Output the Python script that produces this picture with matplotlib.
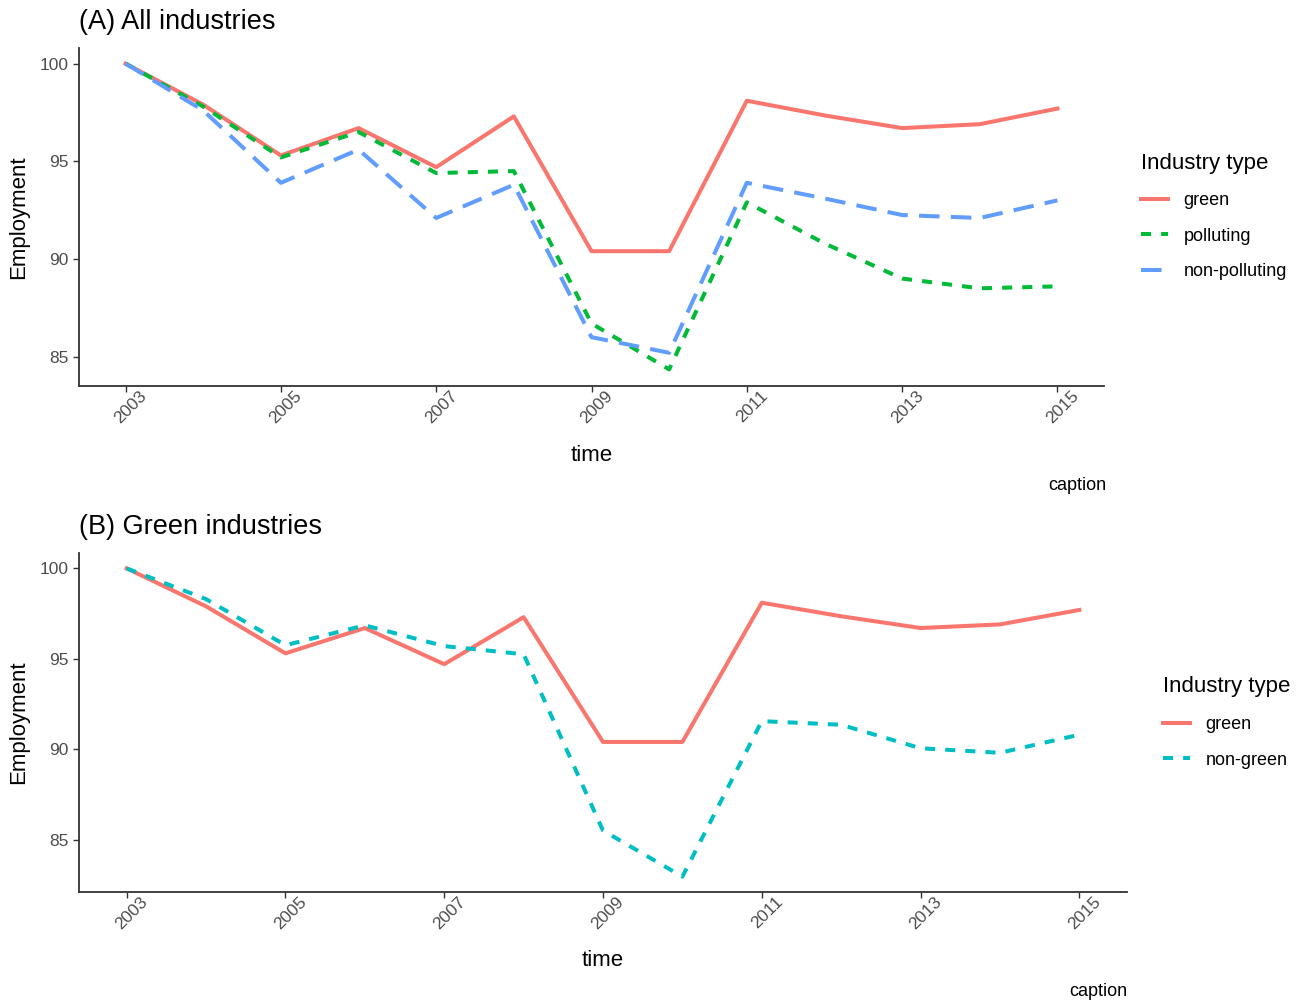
import matplotlib
matplotlib.use('Agg')
import matplotlib.pyplot as plt
import matplotlib.transforms as mtransforms

# ================
# Data
# ================
years = [2003, 2004, 2005, 2006, 2007, 2008, 2009, 2010, 2011, 2012, 2013, 2014, 2015]

green = [100.0, 97.9, 95.3, 96.7, 94.7, 97.3, 90.4, 90.4, 98.1, 97.35, 96.7, 96.9, 97.7]
polluting = [100.0, 97.8, 95.2, 96.5, 94.4, 94.5, 86.7, 84.35, 92.9, 90.8, 89.0, 88.5, 88.6]
non_polluting = [100.0, 97.6, 93.9, 95.6, 92.1, 93.8, 86.0, 85.2, 93.9, 93.1, 92.25, 92.1, 93.0]
non_green = [100.0, 98.3, 95.75, 96.85, 95.7, 95.25, 85.5, 82.95, 91.55, 91.35, 90.05, 89.8, 90.8]

x_ticks = [2003, 2005, 2007, 2009, 2011, 2013, 2015]
y_ticks = [85, 90, 95, 100]

# ================
# Style
# ================
plt.rcParams['font.family'] = ['Liberation Sans', 'DejaVu Sans']
RED = '#F8766D'
GRN = '#00BA38'
BLUE = '#619CFF'
TEAL = '#00BFC4'
LW = 2.9
W, H = 1299, 1002

fig = plt.figure(figsize=(W / 100, H / 100), dpi=100)

def px_axes(left, top, right, bottom):
    return fig.add_axes([left / W, 1 - bottom / H, (right - left) / W, (bottom - top) / H])

def style_axes(ax):
    for side in ['top', 'right']:
        ax.spines[side].set_visible(False)
    for side in ['left', 'bottom']:
        ax.spines[side].set_color('#333333')
        ax.spines[side].set_linewidth(1.3)
    ax.set_xticks(x_ticks)
    ax.set_yticks(y_ticks)
    ax.tick_params(length=4, width=1, color='#333333', labelsize=12.5, labelcolor='#4D4D4D')
    ax.tick_params(axis='x', pad=1)
    # nudge the rotated year labels right and up, like the reference
    shift = mtransforms.ScaledTranslation(5 / 100, 5 / 100, fig.dpi_scale_trans)
    for lab in ax.get_xticklabels():
        lab.set_rotation(45)
        lab.set_ha('center')
        lab.set_transform(lab.get_transform() + shift)
    ax.set_xlim(2002.4, 2015.6)

def add_legend(ax, x_px, yc_px):
    ax.legend(title='Industry type', loc='center left',
              bbox_to_anchor=(x_px / W, 1 - yc_px / H), bbox_transform=fig.transFigure,
              frameon=False, fontsize=13, title_fontsize=16, alignment='left',
              borderpad=0, handlelength=1.5, handletextpad=0.85, labelspacing=1.03)

# ================
# Panel A
# ================
axA = px_axes(79, 48, 1104, 386)
axA.plot(years, green, color=RED, lw=LW, label='green')
axA.plot(years, polluting, color=GRN, lw=LW, dashes=(2.5, 2.5), label='polluting')
axA.plot(years, non_polluting, color=BLUE, lw=LW, dashes=(5.1, 2.8), label='non-polluting')
style_axes(axA)
axA.set_ylim(83.5, 100.8)
axA.set_xlabel('time', fontsize=16)
axA.set_ylabel('Employment', fontsize=16)
axA.xaxis.set_label_coords(0.5, -0.175)
axA.yaxis.set_label_coords(-0.049, 0.5)
axA.text(0, 1.077, '(A) All industries', transform=axA.transAxes, fontsize=19.5,
         ha='left', va='center')
add_legend(axA, 1132, 216.5)
fig.text(1106 / W, 1 - 485 / H, 'caption', ha='right', va='center', fontsize=13)

# ================
# Panel B
# ================
axB = px_axes(79, 553, 1127, 892)
axB.plot(years, green, color=RED, lw=LW, label='green')
axB.plot(years, non_green, color=TEAL, lw=LW, dashes=(2.5, 2.5), label='non-green')
style_axes(axB)
axB.set_ylim(82.1, 100.85)
axB.set_xlabel('time', fontsize=16)
axB.set_ylabel('Employment', fontsize=16)
axB.xaxis.set_label_coords(0.5, -0.172)
axB.yaxis.set_label_coords(-0.048, 0.5)
axB.text(0, 1.077, '(B) Green industries', transform=axB.transAxes, fontsize=19.5,
         ha='left', va='center')
add_legend(axB, 1154, 722.5)
fig.text(1127 / W, 1 - 991 / H, 'caption', ha='right', va='center', fontsize=13)

fig.savefig('out.png', dpi=100, facecolor='white')
